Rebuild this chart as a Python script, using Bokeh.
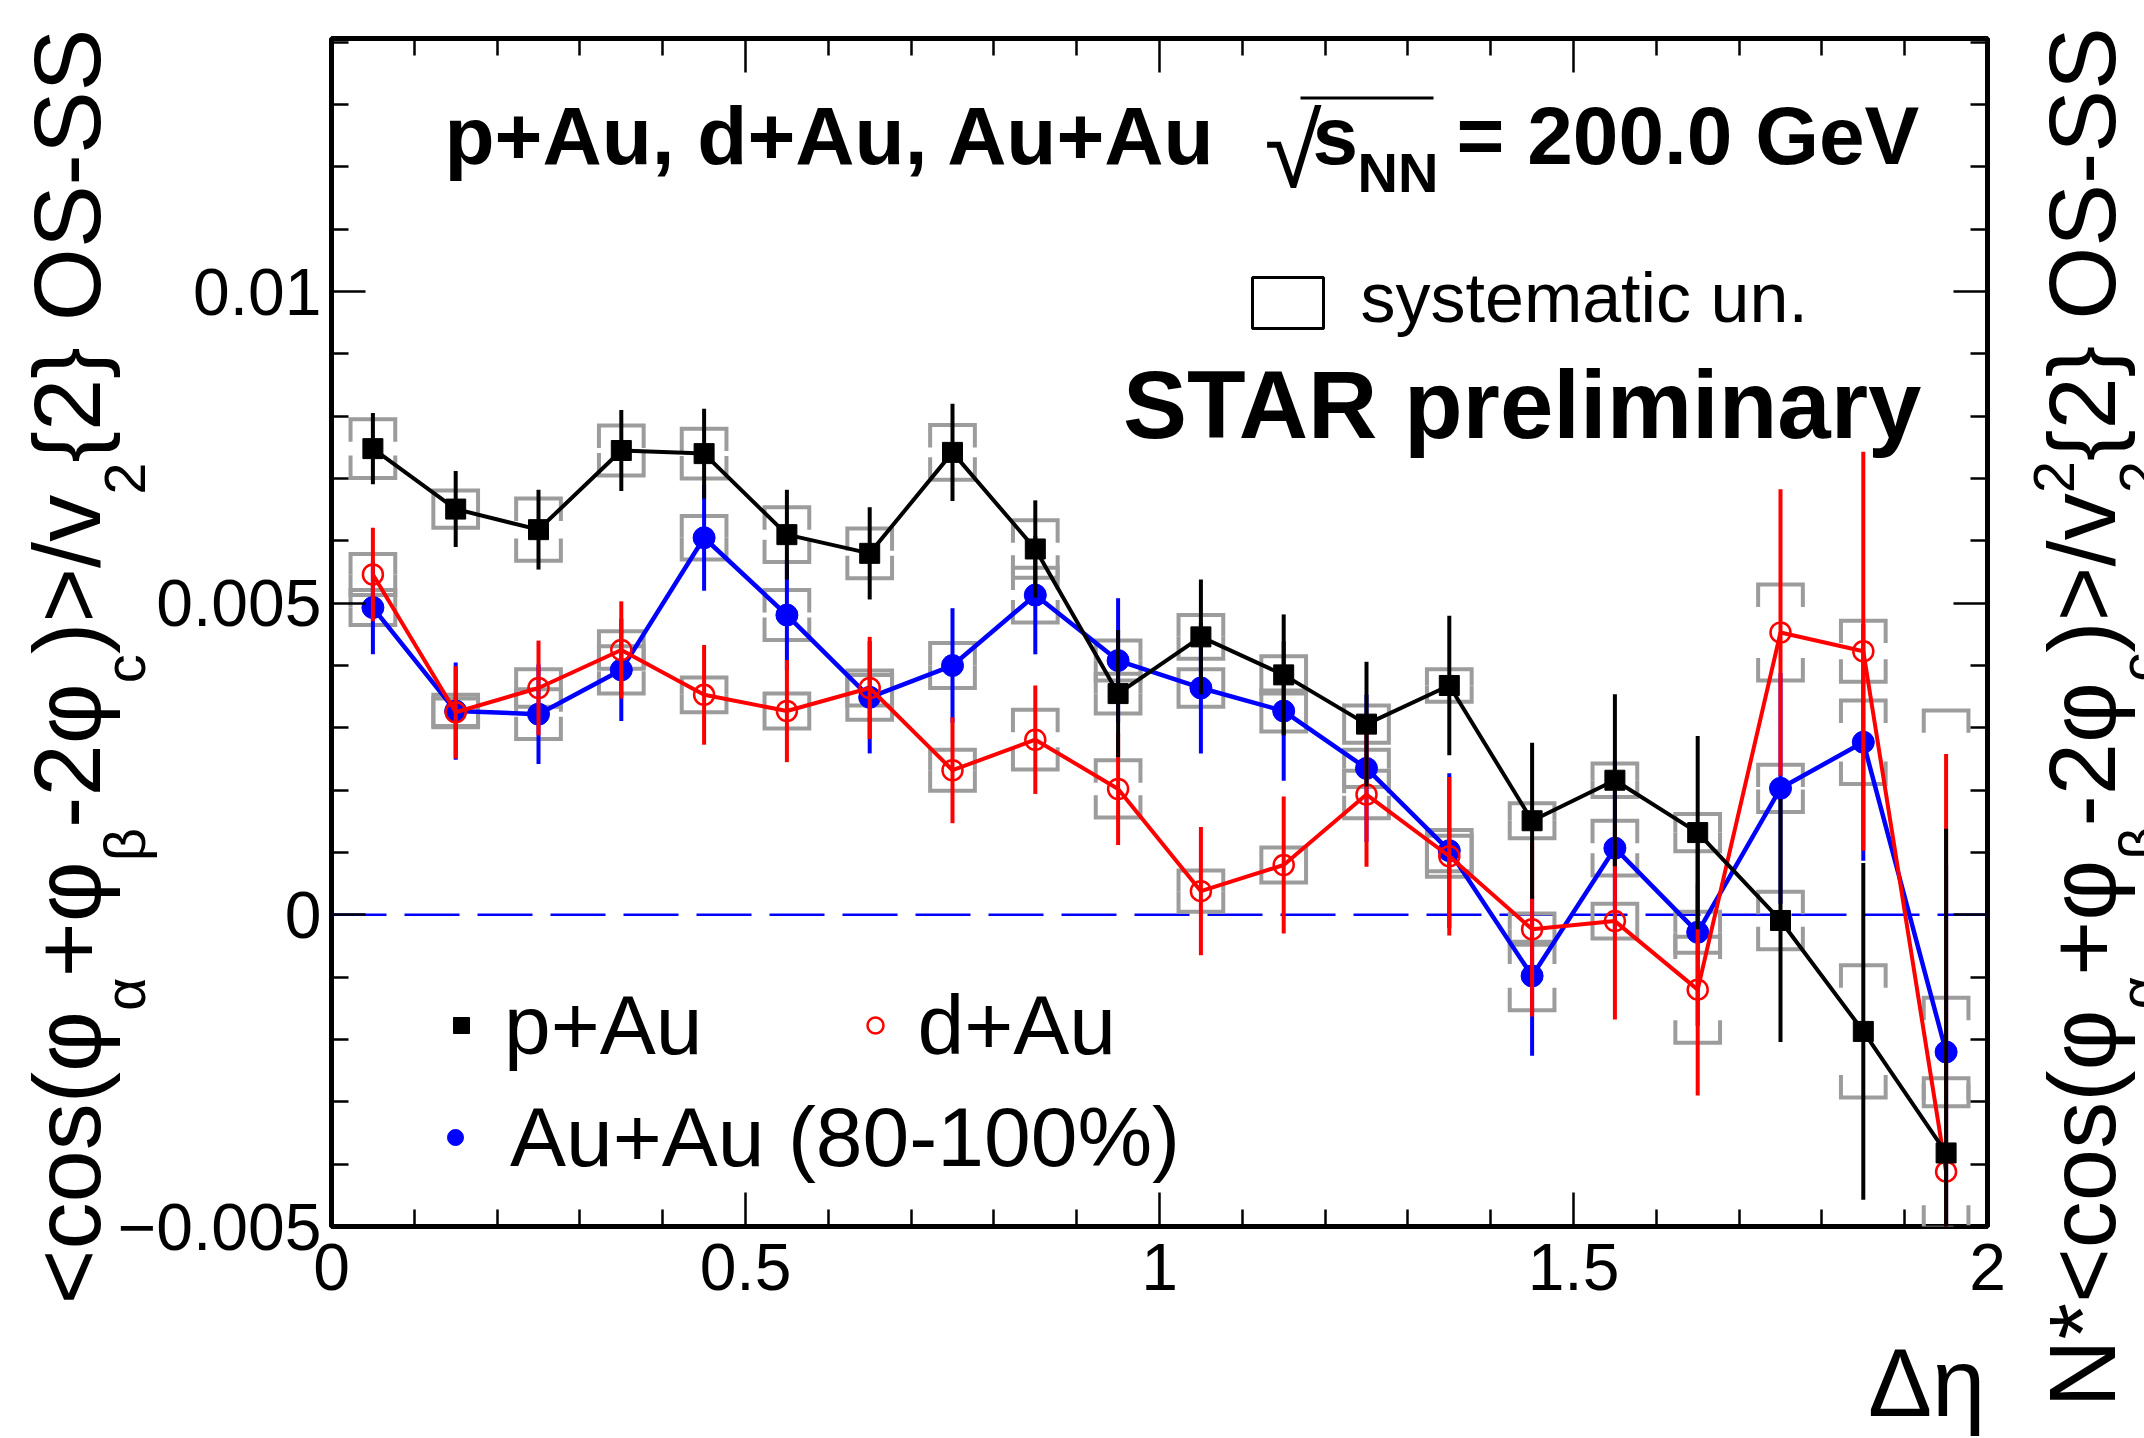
import math
from bokeh.plotting import figure
from bokeh.layouts import column
from bokeh.models import (Range1d, FixedTicker, LinearAxis, Label, BoxAnnotation, Span,
                          Legend, LegendItem, ColumnDataSource)
from bokeh.embed import file_html
from bokeh.resources import INLINE

# ---------------- data ----------------
delta_eta = [0.05, 0.15, 0.25, 0.35, 0.45, 0.55, 0.65, 0.75, 0.85, 0.95,
             1.05, 1.15, 1.25, 1.35, 1.45, 1.55, 1.65, 1.75, 1.85, 1.95]

pau = [0.00748, 0.00651, 0.00618, 0.00745, 0.00740, 0.00610, 0.00580, 0.00742, 0.00587, 0.00355,
       0.00446, 0.00385, 0.00306, 0.00368, 0.00151, 0.00216, 0.00132, -0.00009, -0.00187, -0.00382]
pau_stat = [0.00057, 0.00061, 0.00064, 0.00065, 0.00072, 0.00072, 0.00074, 0.00078, 0.00078, 0.00102,
            0.00092, 0.00097, 0.00100, 0.00112, 0.00125, 0.00138, 0.00155, 0.00195, 0.00270, 0.00520]
pau_sys = [0.00047, 0.00030, 0.00050, 0.00040, 0.00040, 0.00044, 0.00040, 0.00044, 0.00046, 0.00032,
           0.00035, 0.00030, 0.00030, 0.00026, 0.00028, 0.00027, 0.00030, 0.00046, 0.00106, 0.00120]

dau = [0.00546, 0.00325, 0.00364, 0.00425, 0.00353, 0.00327, 0.00364, 0.00232, 0.00281, 0.00202,
       0.00038, 0.00080, 0.00193, 0.00094, -0.00023, -0.00010, -0.00120, 0.00453, 0.00423, -0.00412]
dau_stat = [0.00075, 0.00074, 0.00076, 0.00078, 0.00080, 0.00082, 0.00082, 0.00085, 0.00087, 0.00090,
            0.00103, 0.00110, 0.00116, 0.00127, 0.00140, 0.00158, 0.00170, 0.00230, 0.00320, 0.00670]
dau_sys = [0.00033, 0.00022, 0.00030, 0.00030, 0.00028, 0.00028, 0.00028, 0.00033, 0.00048, 0.00046,
           0.00033, 0.00028, 0.00038, 0.00033, 0.00025, 0.00028, 0.00085, 0.00077, 0.00049, 0.00740]

auau = [0.00493, 0.00327, 0.00322, 0.00393, 0.00605, 0.00481, 0.00349, 0.00400, 0.00513, 0.00408,
        0.00364, 0.00327, 0.00235, 0.00103, -0.00098, 0.00107, -0.00028, 0.00203, 0.00277, -0.00220]
auau_stat = [0.00075, 0.00078, 0.00080, 0.00082, 0.00085, 0.00088, 0.00090, 0.00092, 0.00095, 0.00100,
             0.00105, 0.00112, 0.00118, 0.00124, 0.00128, 0.00140, 0.00150, 0.00185, 0.00190, 0.00300]
auau_sys = [0.00028, 0.00026, 0.00040, 0.00038, 0.00035, 0.00040, 0.00036, 0.00036, 0.00044, 0.00032,
            0.00030, 0.00033, 0.00030, 0.00033, 0.00055, 0.00044, 0.00033, 0.00038, 0.00067, 0.00087]

x_ticks = [0.0, 0.5, 1.0, 1.5, 2.0]
x_tick_labels = ["0", "0.5", "1", "1.5", "2"]
x_minor = [0.1, 0.2, 0.3, 0.4, 0.6, 0.7, 0.8, 0.9, 1.1, 1.2, 1.3, 1.4, 1.6, 1.7, 1.8, 1.9]
y_ticks = [-0.005, 0.0, 0.005, 0.01]
y_tick_labels = ["\u22120.005", "0", "0.005", "0.01"]
y_minor = [-0.004, -0.003, -0.002, -0.001, 0.001, 0.002, 0.003, 0.004, 0.006, 0.007, 0.008,
           0.009, 0.011, 0.012, 0.013, 0.014]

# ---------------- geometry ----------------
W, H = 2144, 1438
FL, FR, FT, FB = 331, 1987, 38, 1226
FONT = "Liberation Sans"
SH = 0.38   # baseline correction (fraction of font size)

p = figure(width=W, height=H, x_range=Range1d(0, 2), y_range=Range1d(-0.005, 0.01406),
           output_backend="svg", toolbar_location=None,
           min_border_left=FL, min_border_right=W - FR, min_border_top=FT, min_border_bottom=H - FB)
p.frame_align = False
p.background_fill_color = "white"
p.border_fill_color = "white"
p.xgrid.visible = False
p.ygrid.visible = False
p.outline_line_color = "black"
p.outline_line_width = 5


def style_axis(ax, ticks, minor, labels, show):
    ax.ticker = FixedTicker(ticks=ticks, minor_ticks=minor)
    ax.major_tick_in = 34
    ax.major_tick_out = 0
    ax.minor_tick_in = 17
    ax.minor_tick_out = 0
    ax.major_tick_line_width = 2.5
    ax.minor_tick_line_width = 2.5
    ax.major_tick_line_color = "black"
    ax.minor_tick_line_color = "black"
    ax.axis_line_color = None
    ax.major_label_text_font = FONT
    ax.major_label_text_color = "black"
    if show:
        ax.major_label_text_font_size = "66px"
        ax.major_label_standoff = 10
        ax.major_label_overrides = {float(t): l for t, l in zip(ticks, labels)}
    else:
        ax.major_label_text_font_size = "1px"
        ax.major_label_standoff = 0
        ax.major_label_overrides = {float(t): "" for t in ticks}


style_axis(p.xaxis[0], x_ticks, x_minor, x_tick_labels, True)
p.xaxis[0].major_label_standoff = 17
style_axis(p.yaxis[0], y_ticks, y_minor, y_tick_labels, True)
top_ax = LinearAxis()
style_axis(top_ax, x_ticks, x_minor, x_tick_labels, False)
p.add_layout(top_ax, "above")
right_ax = LinearAxis()
style_axis(right_ax, y_ticks, y_minor, y_tick_labels, False)
p.add_layout(right_ax, "right")

# ---------------- systematic brackets ----------------
HW = 0.027      # half width of the systematic box (x units)
ARM = 0.00036   # vertical arm length of the bracket corners (y units)


def brackets(xs, ys, ss):
    bx, by = [], []
    for x, y, s in zip(xs, ys, ss):
        a = min(ARM, s)
        top, bot = y + s, y - s
        bx.append([x - HW, x - HW, x + HW, x + HW])
        by.append([top - a, top, top, top - a])
        bx.append([x - HW, x - HW, x + HW, x + HW])
        by.append([bot + a, bot, bot, bot + a])
    return bx, by


for ys, ss in [(auau, auau_sys), (dau, dau_sys), (pau, pau_sys)]:
    bx, by = brackets(delta_eta, ys, ss)
    p.multi_line(bx, by, line_color="#9c9c9c", line_width=4, line_join="miter")

p.add_layout(Span(location=0, dimension="width", line_color="#0000ff", line_width=2.5,
                  line_dash="55 18", level="underlay"))


def series(ys, es, color, marker, size, fill, lw):
    src = ColumnDataSource(dict(x=delta_eta, y=ys,
                                lo=[y - e for y, e in zip(ys, es)],
                                hi=[y + e for y, e in zip(ys, es)]))
    p.line("x", "y", source=src, line_color=color, line_width=lw)
    p.segment("x", "lo", "x", "hi", source=src, line_color=color, line_width=4)
    r = p.scatter("x", "y", source=src, marker=marker, size=size,
                  fill_color=fill, line_color=color, line_width=2.5 if fill is None else 1)
    return r


r_au = series(auau, auau_stat, "#0000ff", "circle", 22, "#0000ff", 4.5)
r_d = series(dau, dau_stat, "#ff0000", "circle", 20, None, 4)
r_p = series(pau, pau_stat, "#000000", "square", 20, "#000000", 4)


# ---------------- legends ----------------
def make_legend(items, loc, standoff, spacing):
    lg = Legend(items=items, location=loc, orientation="horizontal",
                background_fill_alpha=0, border_line_color=None, padding=0, margin=0,
                spacing=spacing, label_standoff=standoff, glyph_width=40, glyph_height=100,
                label_height=100, label_text_font=FONT, label_text_font_size="84px",
                label_text_color="black")
    p.add_layout(lg)


make_legend([LegendItem(label="p+Au", renderers=[r_p]), LegendItem(label="d+Au", renderers=[r_d])],
            (461 - 20 - FL, FB - 1075), 23, 152)
make_legend([LegendItem(label="Au+Au (80-100%)", renderers=[r_au])],
            (455 - 20 - FL, FB - 1187), 35, 0)

# ---------------- transparent text layer over the whole canvas ----------------
t = figure(width=W, height=H, x_range=Range1d(0, W), y_range=Range1d(H, 0),
           output_backend="svg", toolbar_location=None, min_border=0,
           x_axis_location=None, y_axis_location=None)
t.frame_align = False
t.background_fill_alpha = 0
t.border_fill_alpha = 0
t.outline_line_color = None
t.xgrid.visible = False
t.ygrid.visible = False
t.styles = {"margin-top": f"-{H}px"}


def lab(X, Y, text, size, bold=False, align="left", angle=0.0):
    if angle == 0.0:
        ax, ay = X, Y - SH * size
    else:
        ax, ay = X - SH * size, Y
    t.add_layout(Label(x=ax, y=ay, text=text,
                       text_font=FONT, text_font_size=f"{size}px",
                       text_font_style="bold" if bold else "normal", text_color="black",
                       text_align=align, text_baseline="alphabetic", angle=angle))


lab(444, 166, "p+Au, d+Au, Au+Au", 82, bold=True)
lab(1264, 190, "\u221a", 104)
lab(1312, 166, "s", 82, bold=True)
lab(1357, 193, "NN", 56, bold=True)
lab(1456, 166, "= 200.0 GeV", 82, bold=True)
t.add_layout(BoxAnnotation(left=1300, right=1433, top=96, bottom=99,
                           fill_color="black", fill_alpha=1, line_color=None))

lab(1921, 440, "STAR preliminary", 96, bold=True, align="right")
lab(1360, 324, "systematic un.", 70)
t.add_layout(BoxAnnotation(left=1252, right=1323, top=277, bottom=328,
                           fill_color=None, fill_alpha=0,
                           line_color="black", line_alpha=1, line_width=3))

lab(1985, 1418, "\u0394\u03b7", 96, align="right")

# rotated axis titles composed of pieces (sub/superscripts)
FS = 94
SUB = 0.62
WID = {'<': 0.584, '>': 0.584, 'c': 0.5, 'o': 0.556, 's': 0.5, '(': 0.333, ')': 0.333, '+': 0.584,
       '-': 0.333, '2': 0.556, '/': 0.278, 'v': 0.5, '{': 0.334, '}': 0.334, ' ': 0.278, 'O': 0.778,
       'S': 0.667, 'N': 0.722, '*': 0.389, '\u03c6': 0.65, '\u03b1': 0.58, '\u03b2': 0.57}


def tw(s, size):
    return sum(WID.get(c, 0.556) for c in s) * size


def vlabel(parts, X0, Y0):
    pos = 0.0
    for text, kind in parts:
        if kind == "stack":
            sub, sup = text
            sz = FS * SUB
            lab(X0 + 0.46 * FS, Y0 - pos, sub, round(sz), angle=math.pi / 2)
            lab(X0 - 0.45 * FS, Y0 - pos, sup, round(sz), angle=math.pi / 2)
            pos += max(tw(sub, sz), tw(sup, sz))
        elif kind == "sub":
            sz = FS * SUB
            lab(X0 + 0.46 * FS, Y0 - pos, text, round(sz), angle=math.pi / 2)
            pos += tw(text, sz)
        else:
            lab(X0, Y0 - pos, text, FS, angle=math.pi / 2)
            pos += tw(text, FS)


core = [("\u03c6", "n"), ("\u03b1", "sub"), ("+", "n"), ("\u03c6", "n"), ("\u03b2", "sub"),
        ("-2", "n"), ("\u03c6", "n"), ("c", "sub"), (")>/v", "n")]
left_parts = [("<cos(", "n")] + core + [("2", "sub"), ("{2} OS-SS", "n")]
right_parts = [("N*<cos(", "n")] + core + [(("2", "2"), "stack"), ("{2} OS-SS", "n")]
vlabel(left_parts, 103, 1304)
vlabel(right_parts, 2118, 1407)

page = column(p, t, spacing=0)
open("out.html", "w").write(file_html(page, INLINE))
